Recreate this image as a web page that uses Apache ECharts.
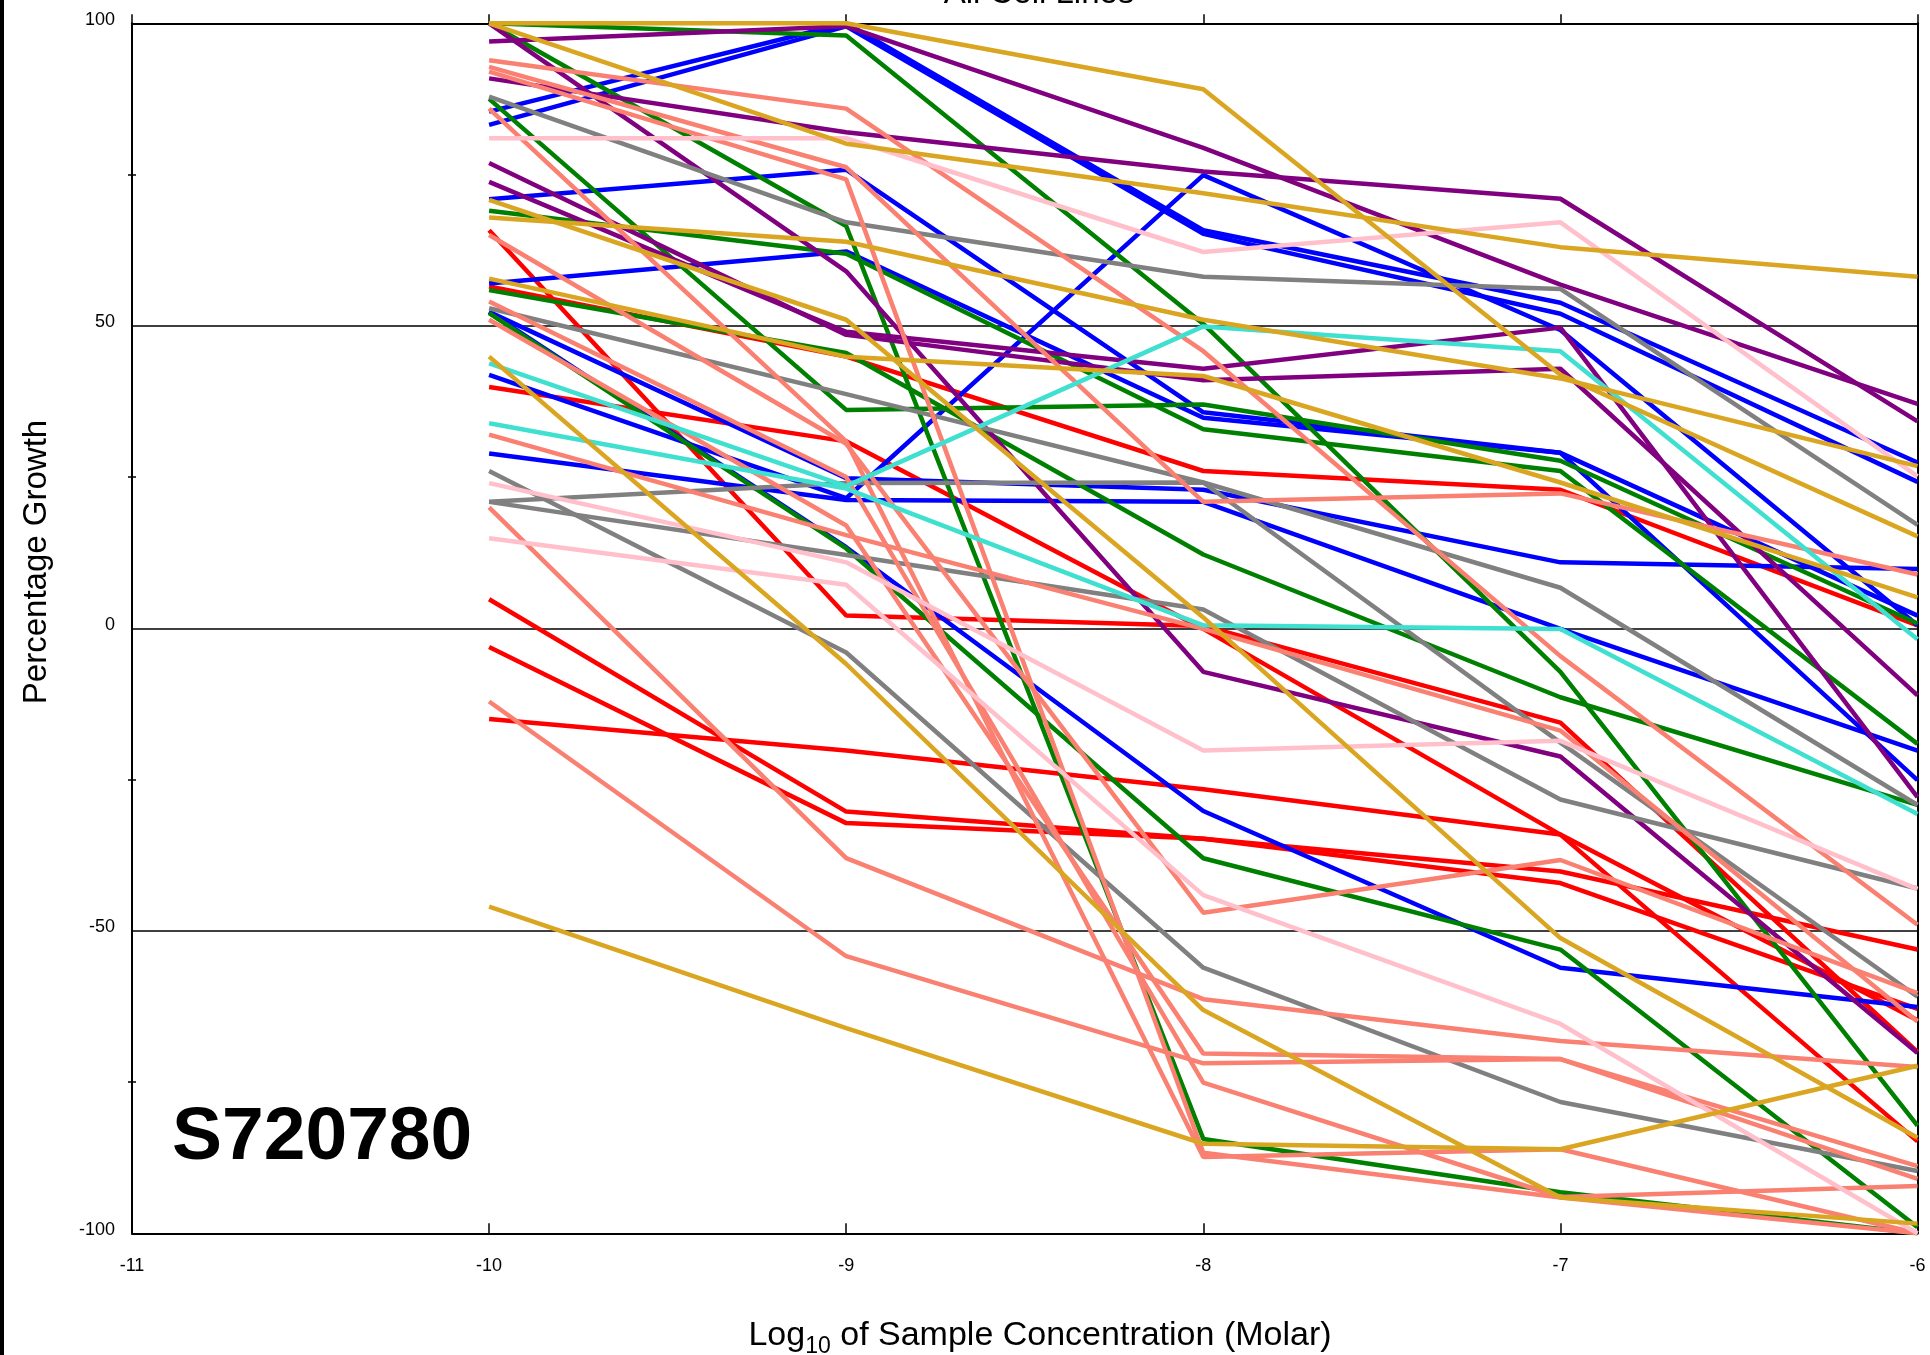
<!DOCTYPE html>
<html>
<head>
<meta charset="utf-8">
<script src="https://cdn.jsdelivr.net/npm/echarts@6/dist/echarts.min.js"></script>
<style>
html,body{margin:0;padding:0;background:#fff;}
#chart{width:1930px;height:1355px;}
</style>
</head>
<body>
<div id="chart"></div>
<script>
// Log10 molar concentrations (x values)
const concentrations = [-10, -9, -8, -7, -6];
const xTicks = [-11, -10, -9, -8, -7, -6];
const yTicks = [-100, -50, 0, 50, 100];

// Percentage growth per cell line, grouped by panel colour
const goldenrodLines = [
  [100, 100, 89.1, 41.9, 15.2],
  [100, 80.1, 71.9, 63.0, 58.1],
  [70.8, 51.0, 1.8, -51.2, -84.2],
  [67.9, 63.9, 51.0, 41.3, 26.8],
  [57.8, 44.9, 41.7, 24.1, 5.1],
  [44.9, -5.9, -63.1, -94.1, -98.4],
  [-46.0, -66.1, -85.2, -86.1, -72.3]
];
const purpleLines = [
  [97, 99.5, 79.4, 56.8, 37.1],
  [90.9, 82.0, 75.5, 71.0, 34.2],
  [100, 59.0, -7.2, -21.2, -70.2],
  [73.8, 49.0, 42.9, 49.7, -27.9],
  [76.9, 48.5, 41.0, 42.9, -11.1]
];
const greenLines = [
  [100, 98, 50.3, -7.2, -82.2],
  [100, 66.5, -84.4, -93.2, -100],
  [69.0, 61.9, 32.9, 26.0, -19.1],
  [55.9, 45.5, 12.2, -11.4, -29.2],
  [87.5, 36.1, 37.0, 27.7, 0.8],
  [52.1, 13.2, -38.0, -53.1, -99]
];
const blueLines = [
  [85.4, 100, 65.8, 53.8, 27.4],
  [83.2, 99.5, 65.2, 52.0, 24.2],
  [70.9, 75.8, 35.7, 29.0, 2.1],
  [57.0, 62.3, 34.8, 29.0, -25.1],
  [41.9, 21.5, 74.9, 49.3, 0.5],
  [52.3, 24.8, 22.9, 10.9, 9.8],
  [52.3, 13.4, -30.2, -56.1, -62.6],
  [28.9, 21.2, 20.9, -0.1, -20.2]
];
const redLines = [
  [65.8, 2.1, 0.4, -15.6, -70],
  [56.5, 44.9, 26.0, 22.9, 0.5],
  [39.9, 30.9, -0.1, -34.1, -84.8],
  [4.8, -30.3, -34.8, -40.2, -53.1],
  [-3.1, -32.2, -34.8, -42.1, -62.9],
  [-15.0, -20.2, -26.6, -34.1, -64.8]
];
const pinkLines = [
  [81, 81, 62.2, 67.1, 25.1],
  [24, 10.9, -20.2, -18.6, -43.1],
  [14.9, 7.2, -44.1, -65.4, -100]
];
const turquoiseLines = [
  [43.8, 23.5, 49.9, 45.8, -1.8],
  [33.9, 23.1, 0.5, -0.1, -30.7]
];
const grayLines = [
  [87.9, 67.1, 58.1, 56.1, 17.1],
  [52.9, 38.7, 24.1, 6.7, -29.2],
  [26.0, -4.0, -56.1, -78.3, -89.7],
  [20.9, 12.1, 3.1, -28.3, -43.0],
  [20.9, 24.0, 24.1, -18.9, -60.9]
];
const salmonLines = [
  [93.9, 85.9, 45.8, -4.6, -49.0],
  [92.8, 76.2, 20.9, 22.3, 8.9],
  [92.0, 74.2, -86.7, -94.1, -100],
  [85.9, 30.9, -87.4, -86.1, -100],
  [65.0, 30.5, -47.0, -38.3, -60.3],
  [54.0, 25.0, -75.1, -94.0, -92.2],
  [51.0, 17.0, -70.3, -71.2, -88.9],
  [32.0, 15.4, -0.1, -16.9, -65.0],
  [20.0, -38.0, -61.3, -68.2, -72.5],
  [-12.1, -54.2, -71.9, -71.2, -91.0]
];

const groups = [
  {color: '#FF0000', lines: redLines},
  {color: '#0000FF', lines: blueLines},
  {color: '#008000', lines: greenLines},
  {color: '#800080', lines: purpleLines},
  {color: '#808080', lines: grayLines},
  {color: '#FA8072', lines: salmonLines},
  {color: '#FFC0CB', lines: pinkLines},
  {color: '#40E0D0', lines: turquoiseLines},
  {color: '#DAA520', lines: goldenrodLines}
];

const series = [];
groups.forEach(g => {
  g.lines.forEach(vals => {
    series.push({
      type: 'line',
      data: concentrations.map((c, i) => [c, vals[i]]),
      symbol: 'none',
      silent: true,
      lineStyle: {color: g.color, width: 4.5},
      itemStyle: {color: g.color},
      animation: false
    });
  });
});

const FONT = '"Liberation Sans", Arial, Helvetica, sans-serif';
const chart = echarts.init(document.getElementById('chart'), null, {renderer: 'canvas'});
chart.setOption({
  backgroundColor: '#fff',
  animation: false,
  grid: {left: 132, right: 12.5, top: 23.3, bottom: 121.7, containLabel: false},
  xAxis: [
    {
      type: 'value', position: 'bottom', min: xTicks[0], max: xTicks[xTicks.length - 1], interval: 1,
      axisLine: {show: true, onZero: false, lineStyle: {color: '#000', width: 2}},
      axisTick: {show: true, inside: true, length: 10, lineStyle: {color: '#000', width: 1.5}},
      axisLabel: {show: true, color: '#000', fontSize: 18, fontFamily: FONT, margin: 24},
      splitLine: {show: false}
    },
    {
      type: 'value', position: 'top', min: xTicks[0], max: xTicks[xTicks.length - 1], interval: 1,
      axisLine: {show: true, onZero: false, lineStyle: {color: '#000', width: 2}},
      axisTick: {show: true, inside: false, length: 9, lineStyle: {color: '#000', width: 1.5}},
      axisLabel: {show: false},
      splitLine: {show: false}
    }
  ],
  yAxis: [
    {
      type: 'value', position: 'left', min: yTicks[0], max: yTicks[yTicks.length - 1], interval: 50,
      axisLine: {show: true, onZero: false, lineStyle: {color: '#000', width: 2}},
      axisTick: {show: false},
      minorTick: {show: true, splitNumber: 2, length: 4, lineStyle: {color: '#000', width: 1.5}},
      axisLabel: {show: true, color: '#000', fontSize: 18, fontFamily: FONT, margin: 17,
                  verticalAlign: 'bottom', lineHeight: 7},
      splitLine: {show: true, lineStyle: {color: '#000', width: 1.5}}
    },
    {
      type: 'value', position: 'right', min: yTicks[0], max: yTicks[yTicks.length - 1], interval: 50,
      axisLine: {show: true, onZero: false, lineStyle: {color: '#000', width: 2}},
      axisTick: {show: false}, axisLabel: {show: false}, splitLine: {show: false}
    },
    {
      type: 'value', position: 'left', min: yTicks[0], max: yTicks[yTicks.length - 1], interval: 50,
      axisLine: {show: false, onZero: false},
      axisTick: {show: false, inside: true},
      minorTick: {show: true, splitNumber: 2, length: 4, lineStyle: {color: '#000', width: 1.5}},
      axisLabel: {show: false}, splitLine: {show: false}
    }
  ],
  series: series,
  graphic: [
    {type: 'rect', shape: {x: 0, y: 0, width: 4, height: 1355}, style: {fill: '#000'}, silent: true},
    {type: 'text', x: 1039, y: -6, silent: true,
     style: {text: 'All Cell Lines', font: '33px ' + FONT, fill: '#000', align: 'center', verticalAlign: 'middle'}},
    {type: 'text', x: 37, y: 562, rotation: Math.PI / 2, silent: true,
     style: {text: 'Percentage Growth', font: '33px ' + FONT, fill: '#000', align: 'center', verticalAlign: 'middle'}},
    {type: 'text', x: 1040, y: 1336, silent: true,
     style: {
       text: '{a|Log}{b|10}{a| of Sample Concentration (Molar)}',
       align: 'center', verticalAlign: 'middle', fill: '#000',
       rich: {
         a: {fontSize: 34, fontFamily: FONT, lineHeight: 44, verticalAlign: 'middle', fill: '#000'},
         b: {fontSize: 23, fontFamily: FONT, lineHeight: 44, verticalAlign: 'bottom', fill: '#000'}
       }
     }},
    {type: 'text', x: 172, y: 1138, silent: true, z: 100,
     style: {text: 'S720780', font: 'bold 75px ' + FONT, fill: '#000', align: 'left', verticalAlign: 'middle'}}
  ]
});
</script>
</body>
</html>
